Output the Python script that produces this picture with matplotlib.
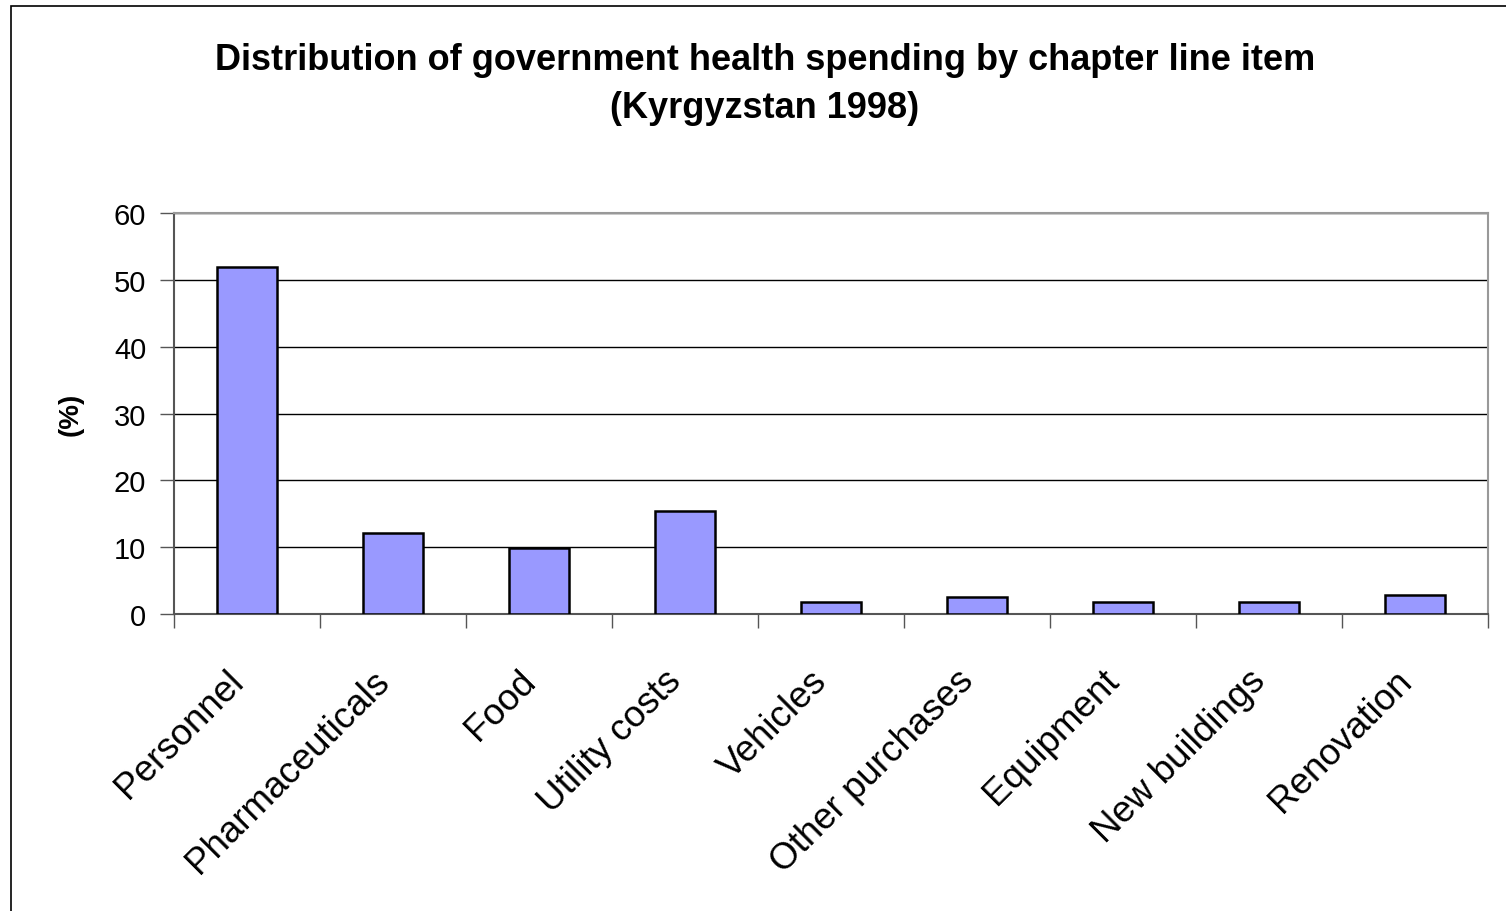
import numpy as np
import matplotlib
matplotlib.use("Agg")
from matplotlib import pyplot as plt
from matplotlib.patches import Rectangle
from matplotlib.transforms import ScaledTranslation

categories = ["Personnel", "Pharmaceuticals", "Food", "Utility costs", "Vehicles",
              "Other purchases", "Equipment", "New buildings", "Renovation"]
shares = [51.9, 12.1, 9.9, 15.4, 1.8, 2.5, 1.8, 1.8, 2.9]
y_ticks = [0, 10, 20, 30, 40, 50, 60]

plt.rcParams['font.family'] = ['Liberation Sans', 'DejaVu Sans']

fig = plt.figure(figsize=(15.06, 9.12), dpi=100)
ax = fig.add_axes([174 / 1506, 1 - 615 / 912, 1314 / 1506, 401 / 912])

# outer chart frame
fig.patches.append(Rectangle((11 / 1506, -0.01), 1.0, 1 - 7 / 912 + 0.01,
                             transform=fig.transFigure, fill=False,
                             edgecolor='black', linewidth=1.2))

x = np.arange(len(categories))
ax.bar(x, shares, width=0.41, color='#9999FF', edgecolor='black', linewidth=1.8, zorder=3)

ax.set_xlim(-0.5, len(categories) - 0.5)
ax.set_ylim(0, 60)
ax.set_yticks(y_ticks)
ax.set_yticklabels([str(t) for t in y_ticks], fontsize=21)
ax.yaxis.grid(True, color='black', linewidth=1.0, zorder=0)
ax.set_axisbelow(True)

ax.set_xticks(np.arange(len(categories) + 1) - 0.5)
ax.set_xticklabels([])
ax.set_xticks(x, minor=True)
ax.set_xticklabels(categories, minor=True, rotation=45, ha='right', va='center',
                   rotation_mode='anchor', fontsize=26.5)
ax.tick_params(axis='x', which='minor', length=0, pad=44)
ax.tick_params(axis='x', which='major', length=10, width=1, color='#555555', direction='out')
ax.tick_params(axis='y', length=10, width=1, color='#555555', direction='out', pad=10)

# nudge the slanted category labels slightly left
shift = ScaledTranslation(-0.09, 0.0, fig.dpi_scale_trans)
for lbl in ax.get_xticklabels(minor=True):
    lbl.set_transform(lbl.get_transform() + shift)

for side in ['top', 'right']:
    ax.spines[side].set_color('#999999')
    ax.spines[side].set_linewidth(1.5)
for side in ['left', 'bottom']:
    ax.spines[side].set_color('#555555')
    ax.spines[side].set_linewidth(1.5)

ax.set_ylabel('(%)', fontsize=20, fontweight='bold', labelpad=22)

fig.text(765 / 1506, 1 - 60 / 912, 'Distribution of government health spending by chapter line item',
         ha='center', va='center', fontsize=26, fontweight='bold')
fig.text(765 / 1506, 1 - 108 / 912, '(Kyrgyzstan 1998)',
         ha='center', va='center', fontsize=26, fontweight='bold')

fig.savefig('out.png', dpi=100)
